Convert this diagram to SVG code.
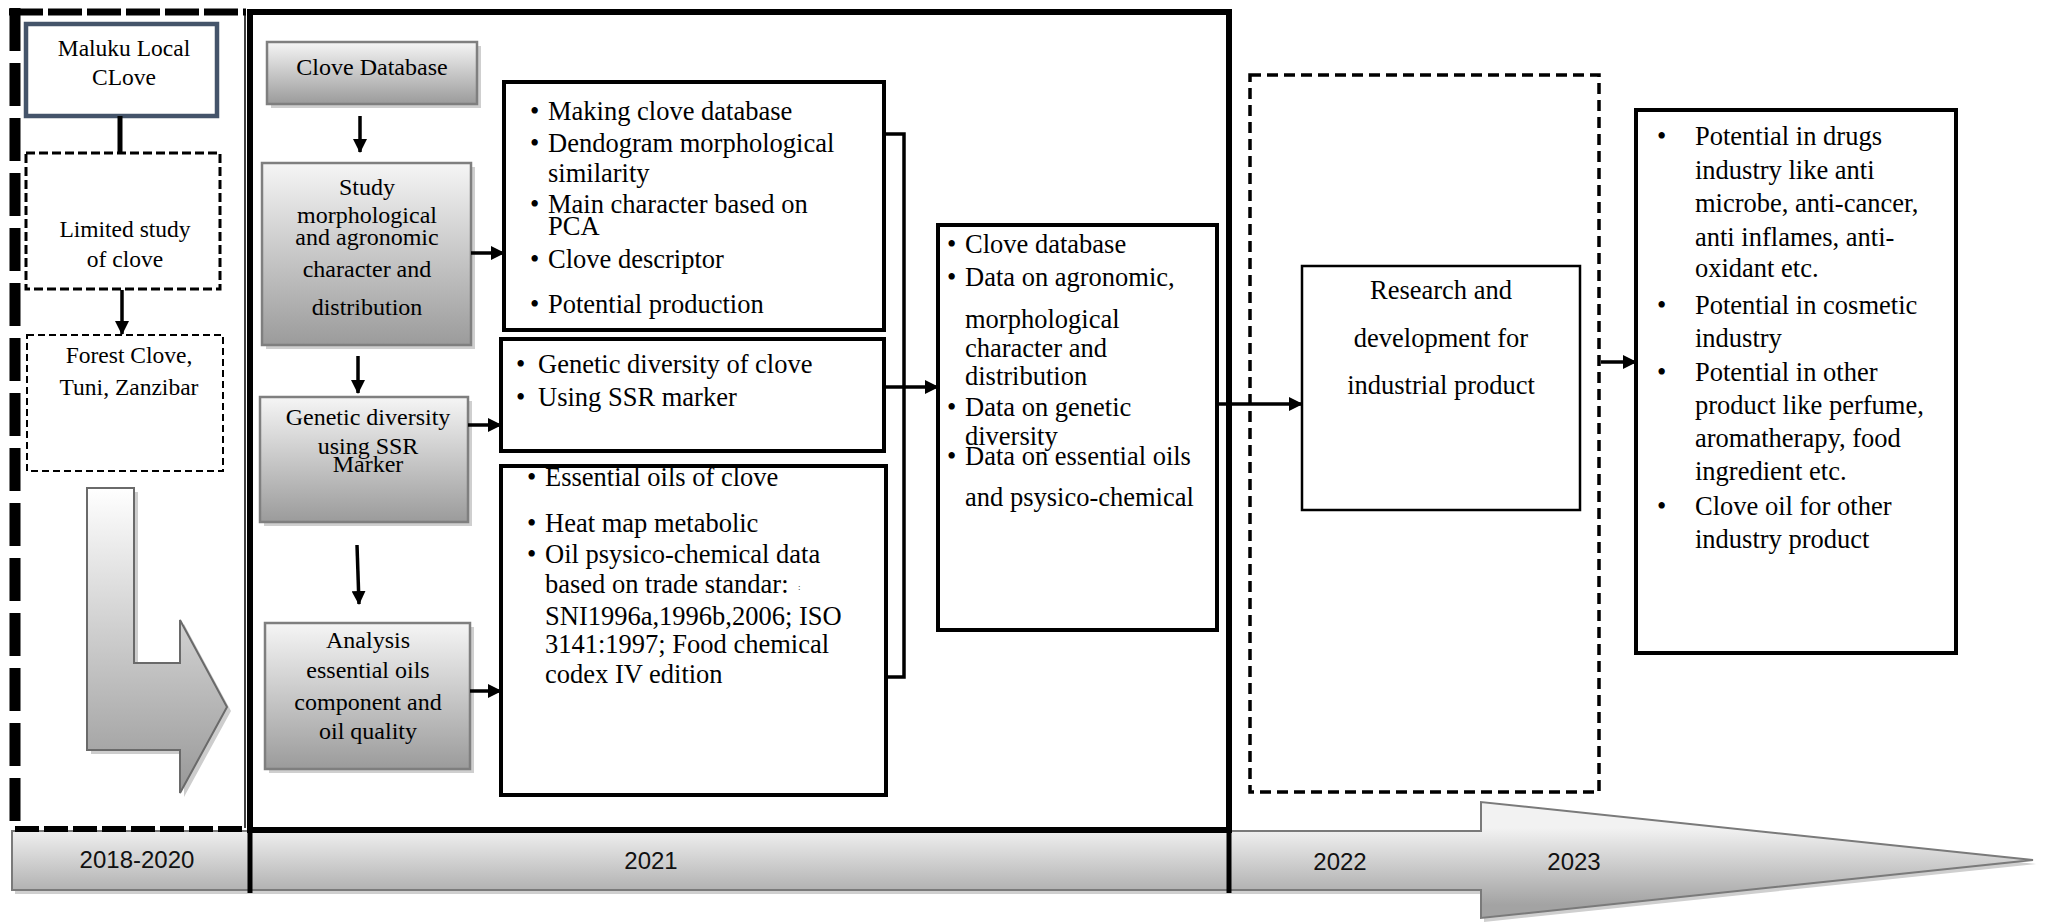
<svg xmlns="http://www.w3.org/2000/svg" width="2049" height="923" viewBox="0 0 2049 923">
<style>
  .t{font-family:"Liberation Serif","Times New Roman",serif;fill:#000}
  .l{font-size:23.5px;text-anchor:middle}
  .g{font-size:24px;text-anchor:middle}
  .b{font-size:26.5px}
  .c{text-anchor:middle;font-size:26.5px}
  .yr{font-family:"Liberation Sans",Arial,sans-serif;font-size:24px;text-anchor:middle;fill:#111}
  .box{fill:#fff;stroke:#000;stroke-width:4}
  .gbox{fill:url(#gg);stroke:#7f7f7f;stroke-width:2.5}
  .sh{fill:#cfcfcf}
  .ln{fill:none;stroke:#000;stroke-width:3.5}
  .ar{fill:none;stroke:#000;stroke-width:3.5;marker-end:url(#ah)}
</style>
<defs>
  <linearGradient id="gg" x1="0" y1="0" x2="0" y2="1">
    <stop offset="0" stop-color="#f5f5f5"/>
    <stop offset="1" stop-color="#9b9b9b"/>
  </linearGradient>
  <linearGradient id="tg" gradientUnits="userSpaceOnUse" x1="0" y1="828" x2="0" y2="905">
    <stop offset="0" stop-color="#f2f2f2"/>
    <stop offset="1" stop-color="#a3a3a3"/>
  </linearGradient>
  <linearGradient id="lg" gradientUnits="userSpaceOnUse" x1="0" y1="488" x2="0" y2="793">
    <stop offset="0" stop-color="#ffffff"/>
    <stop offset="1" stop-color="#989898"/>
  </linearGradient>
  <marker id="ah" markerUnits="userSpaceOnUse" markerWidth="14" markerHeight="14" refX="13" refY="7" orient="auto">
    <path d="M0,0 L14,7 L0,14 Z" fill="#000"/>
  </marker>
</defs>
<rect width="2049" height="923" fill="#fff"/>

<g id="timeline">
  <path d="M15,835 L1484,835 L1484,806 L2036,864 L1484,922 L1484,894 L15,894 Z" class="sh"/>
  <path d="M12,831 L1481,831 L1481,802 L2033,860 L1481,918 L1481,890 L12,890 Z" fill="url(#tg)" stroke="#7a7a7a" stroke-width="2"/>
  <text class="yr" x="137" y="868">2018-2020</text>
  <text class="yr" x="651" y="869">2021</text>
  <text class="yr" x="1340" y="870">2022</text>
  <text class="yr" x="1574" y="870">2023</text>
</g>

<g id="period-2018-2020">
  <line x1="15" y1="8" x2="15" y2="828" stroke="#000" stroke-width="11" stroke-dasharray="43 12"/>
  <line x1="9" y1="12" x2="246" y2="12" stroke="#000" stroke-width="7" stroke-dasharray="34 5"/>
  <line x1="15" y1="829" x2="246" y2="829" stroke="#000" stroke-width="6" stroke-dasharray="24 5"/>
  <line x1="245" y1="12" x2="245" y2="828" stroke="#000" stroke-width="1.5"/>
</g>

<g id="period-2021">
  <rect x="250" y="12" width="979" height="818" fill="none" stroke="#000" stroke-width="6"/>
  <line x1="250" y1="828" x2="250" y2="893" stroke="#000" stroke-width="5"/>
  <line x1="1229" y1="828" x2="1229" y2="893" stroke="#000" stroke-width="5"/>
</g>

<g id="period-2022">
  <rect x="1250" y="75" width="349" height="717" fill="none" stroke="#000" stroke-width="3.5" stroke-dasharray="11 6"/>
</g>

<g id="maluku">
  <rect x="26" y="24" width="191" height="92" fill="#fff" stroke="#44546a" stroke-width="4.5"/>
  <text class="t l" x="124" y="56">Maluku Local</text>
  <text class="t l" x="124" y="85">CLove</text>
</g>
<g id="limited">
  <rect x="26" y="153" width="194" height="136" fill="#fff" stroke="#000" stroke-width="3" stroke-dasharray="9 4"/>
  <text class="t l" x="125" y="237">Limited study</text>
  <text class="t l" x="125" y="267">of clove</text>
</g>
<g id="forest">
  <rect x="27" y="335" width="196" height="136" fill="#fff" stroke="#000" stroke-width="2" stroke-dasharray="7 4"/>
  <text class="t l" x="129" y="363">Forest Clove,</text>
  <text class="t l" x="129" y="395">Tuni, Zanzibar</text>
</g>
<g id="l-arrow">
  <path d="M91,492 L138,492 L138,667 L184,667 L184,624 L231,711 L184,797 L184,754 L91,754 Z" fill="#cdcdcd"/>
  <path d="M87,488 L134,488 L134,663 L180,663 L180,620 L227,707 L180,793 L180,750 L87,750 Z" fill="url(#lg)" stroke="#6a6a6a" stroke-width="2"/>
</g>

<g id="clove-database">
  <rect x="271" y="46" width="210" height="62" class="sh"/>
  <rect x="267" y="42" width="210" height="62" class="gbox"/>
  <text class="t g" x="372" y="75">Clove Database</text>
</g>
<g id="study">
  <rect x="266" y="167" width="209" height="182" class="sh"/>
  <rect x="262" y="163" width="209" height="182" class="gbox"/>
  <text class="t g" x="367" y="195">Study</text>
  <text class="t g" x="367" y="223">morphological</text>
  <text class="t g" x="367" y="245">and agronomic</text>
  <text class="t g" x="367" y="277">character and</text>
  <text class="t g" x="367" y="315">distribution</text>
</g>
<g id="genetic">
  <rect x="264" y="401" width="208" height="125" class="sh"/>
  <rect x="260" y="397" width="208" height="125" class="gbox"/>
  <text class="t g" x="368" y="425">Genetic diversity</text>
  <text class="t g" x="368" y="454">using SSR</text>
  <text class="t g" x="368" y="472">Marker</text>
</g>
<g id="analysis">
  <rect x="269" y="627" width="205" height="146" class="sh"/>
  <rect x="265" y="623" width="205" height="146" class="gbox"/>
  <text class="t g" x="368" y="648">Analysis</text>
  <text class="t g" x="368" y="678">essential oils</text>
  <text class="t g" x="368" y="710">component and</text>
  <text class="t g" x="368" y="739">oil quality</text>
</g>

<g id="morpho-results">
  <rect x="504" y="82" width="380" height="248" class="box"/>
  <text class="t b" x="530" y="120">•</text><text class="t b" x="548" y="120">Making clove database</text>
  <text class="t b" x="530" y="152">•</text><text class="t b" x="548" y="152">Dendogram morphological</text>
  <text class="t b" x="548" y="182">similarity</text>
  <text class="t b" x="530" y="213">•</text><text class="t b" x="548" y="213">Main character based on</text>
  <text class="t b" x="548" y="235">PCA</text>
  <text class="t b" x="530" y="268">•</text><text class="t b" x="548" y="268">Clove descriptor</text>
  <text class="t b" x="530" y="313">•</text><text class="t b" x="548" y="313">Potential production</text>
</g>
<g id="genetic-results">
  <rect x="501" y="339" width="383" height="112" class="box"/>
  <text class="t b" x="516" y="373">•</text><text class="t b" x="538" y="373">Genetic diversity of clove</text>
  <text class="t b" x="516" y="406">•</text><text class="t b" x="538" y="406">Using SSR marker</text>
</g>
<g id="oil-results">
  <rect x="501" y="466" width="385" height="329" class="box"/>
  <text class="t b" x="527" y="486">•</text><text class="t b" x="545" y="486">Essential oils of clove</text>
  <text class="t b" x="527" y="532">•</text><text class="t b" x="545" y="532">Heat map metabolic</text>
  <text class="t b" x="527" y="563">•</text><text class="t b" x="545" y="563">Oil psysico-chemical data</text>
  <text class="t b" x="545" y="593">based on trade standar:</text>
  <text class="t" x="798" y="590" font-size="9" fill="#999">:</text>
  <text class="t b" x="545" y="625">SNI1996a,1996b,2006; ISO</text>
  <text class="t b" x="545" y="653">3141:1997; Food chemical</text>
  <text class="t b" x="545" y="683">codex IV edition</text>
</g>
<g id="data-summary">
  <rect x="938" y="225" width="279" height="405" class="box"/>
  <text class="t b" x="947" y="253">•</text><text class="t b" x="965" y="253">Clove database</text>
  <text class="t b" x="947" y="286">•</text><text class="t b" x="965" y="286">Data on agronomic,</text>
  <text class="t b" x="965" y="328">morphological</text>
  <text class="t b" x="965" y="357">character and</text>
  <text class="t b" x="965" y="385">distribution</text>
  <text class="t b" x="947" y="416">•</text><text class="t b" x="965" y="416">Data on genetic</text>
  <text class="t b" x="965" y="445">diversity</text>
  <text class="t b" x="947" y="465">•</text><text class="t b" x="965" y="465">Data on essential oils</text>
  <text class="t b" x="965" y="506">and psysico-chemical</text>
</g>
<g id="research">
  <rect x="1302" y="266" width="278" height="244" fill="#fff" stroke="#000" stroke-width="2.5"/>
  <text class="t c" x="1441" y="299">Research and</text>
  <text class="t c" x="1441" y="347">development for</text>
  <text class="t c" x="1441" y="394">industrial product</text>
</g>
<g id="potential">
  <rect x="1636" y="110" width="320" height="543" class="box"/>
  <text class="t b" x="1657" y="145">•</text><text class="t b" x="1695" y="145">Potential in drugs</text>
  <text class="t b" x="1695" y="179">industry like anti</text>
  <text class="t b" x="1695" y="212">microbe, anti-cancer,</text>
  <text class="t b" x="1695" y="246">anti inflames, anti-</text>
  <text class="t b" x="1695" y="277">oxidant etc.</text>
  <text class="t b" x="1657" y="314">•</text><text class="t b" x="1695" y="314">Potential in cosmetic</text>
  <text class="t b" x="1695" y="347">industry</text>
  <text class="t b" x="1657" y="381">•</text><text class="t b" x="1695" y="381">Potential in other</text>
  <text class="t b" x="1695" y="414">product like perfume,</text>
  <text class="t b" x="1695" y="447">aromatherapy, food</text>
  <text class="t b" x="1695" y="480">ingredient etc.</text>
  <text class="t b" x="1657" y="515">•</text><text class="t b" x="1695" y="515">Clove oil for other</text>
  <text class="t b" x="1695" y="548">industry product</text>
</g>

<g id="connectors">
  <line x1="120" y1="116" x2="120" y2="153" stroke="#000" stroke-width="5"/>
  <line class="ar" x1="122" y1="290" x2="122" y2="334"/>
  <line class="ar" x1="360" y1="116" x2="360" y2="152"/>
  <line class="ar" x1="358" y1="356" x2="358" y2="393"/>
  <line class="ar" x1="357" y1="545" x2="359" y2="604"/>
  <line class="ar" x1="471" y1="253" x2="504" y2="253"/>
  <line class="ar" x1="468" y1="425" x2="501" y2="425"/>
  <line class="ar" x1="470" y1="691" x2="501" y2="691"/>
  <polyline class="ln" points="884,134 904,134 904,677 886,677"/>
  <line class="ar" x1="884" y1="387" x2="938" y2="387"/>
  <line class="ar" x1="1217" y1="404" x2="1302" y2="404"/>
  <line class="ar" x1="1601" y1="362" x2="1636" y2="362"/>
</g>
</svg>
